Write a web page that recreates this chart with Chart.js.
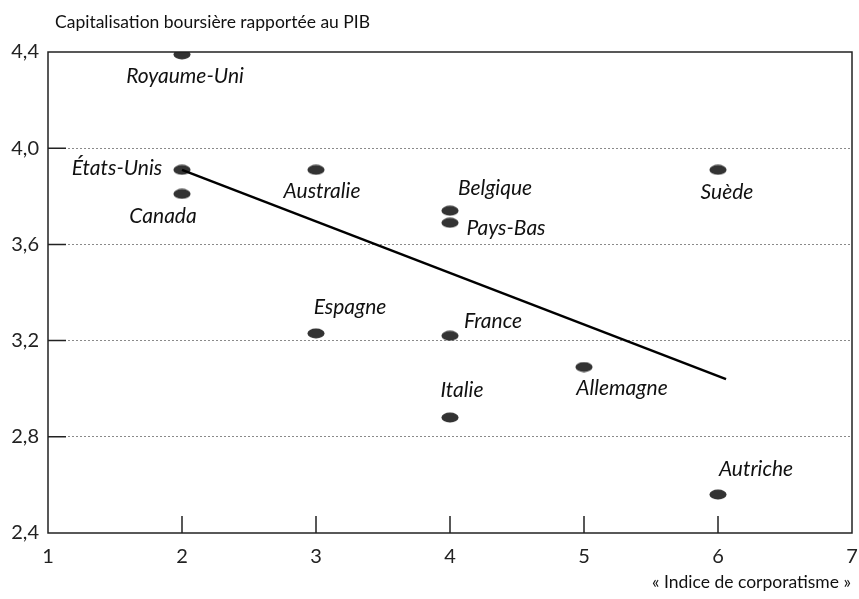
<!DOCTYPE html>
<html>
<head>
<meta charset="utf-8">
<script src="https://cdn.jsdelivr.net/npm/chart.js@4.4.0/dist/chart.umd.min.js"></script>
<style>
  html, body { margin: 0; padding: 0; background: #fff; }
  #wrap { width: 859px; height: 599px; }
</style>
</head>
<body>
<div id="wrap"><canvas id="chart"></canvas></div>
<script>
const countries = ['Royaume-Uni', 'États-Unis', 'Canada', 'Australie', 'Belgique', 'Pays-Bas',
                   'Suède', 'Espagne', 'France', 'Allemagne', 'Italie', 'Autriche'];
const corporatism = [2, 2, 2, 3, 4, 4, 6, 3, 4, 5, 4, 6];
const capitalisation = [4.39, 3.91, 3.81, 3.91, 3.74, 3.69, 3.91, 3.23, 3.22, 3.09, 2.88, 2.56];
const trendX = [2, 6.06];
const trendY = [3.91, 3.04];
const yTicks = [2.4, 2.8, 3.2, 3.6, 4.0, 4.4];

// label offsets from the point, in pixels
const labelOffsets = [[3, 22], [-65, -2], [-19, 22], [6, 21], [45, -22], [56, 5],
                      [9, 22], [34, -26], [43, -15], [38, 21], [12, -27], [38, -25]];

const FONT = 'Lato, "Open Sans", sans-serif';

// ellipse marker
const dot = document.createElement('canvas');
dot.width = 18; dot.height = 11;
(function () {
    const c = dot.getContext('2d');
    c.fillStyle = '#333';
    c.beginPath();
    c.ellipse(9, 5.5, 8.5, 5, 0, 0, Math.PI * 2);
    c.fill();
})();

const extras = {
    id: 'extras',
    afterDraw(chart) {
        const ctx = chart.ctx;
        const a = chart.chartArea;
        const xs = chart.scales.x, ys = chart.scales.y;
        ctx.save();

        // frame
        ctx.strokeStyle = '#222';
        ctx.lineWidth = 1.5;
        ctx.strokeRect(a.left, a.top, a.right - a.left, a.bottom - a.top);

        // inner tick marks
        ctx.beginPath();
        for (let v = 2; v <= 6; v++) {
            const px = xs.getPixelForValue(v);
            ctx.moveTo(px, a.bottom);
            ctx.lineTo(px, a.bottom - 17);
        }
        yTicks.slice(1, -1).forEach(v => {
            const py = ys.getPixelForValue(v);
            ctx.moveTo(a.left, py);
            ctx.lineTo(a.left + 18, py);
        });
        ctx.stroke();

        // point labels
        const meta = chart.getDatasetMeta(1);
        ctx.fillStyle = '#111';
        ctx.font = 'italic 21px ' + FONT;
        ctx.textAlign = 'center';
        ctx.textBaseline = 'middle';
        meta.data.forEach((pt, i) => {
            const o = labelOffsets[i];
            ctx.fillText(countries[i], pt.x + o[0], pt.y + o[1]);
        });

        // titles
        ctx.font = '17.5px ' + FONT;
        ctx.textAlign = 'left';
        ctx.fillText('Capitalisation boursière rapportée au PIB', a.left + 7, 22);
        ctx.textAlign = 'right';
        ctx.fillText('« Indice de corporatisme »', a.right - 1, 582);
        ctx.restore();
    }
};

new Chart(document.getElementById('chart'), {
    type: 'scatter',
    data: {
        datasets: [
            {
                type: 'line',
                data: trendX.map((x, i) => ({ x: x, y: trendY[i] })),
                borderColor: '#000',
                borderWidth: 2.5,
                pointRadius: 0,
                fill: false
            },
            {
                data: corporatism.map((x, i) => ({ x: x, y: capitalisation[i] })),
                pointStyle: dot,
                pointRadius: 6
            }
        ]
    },
    options: {
        responsive: true,
        maintainAspectRatio: false,
        animation: false,
        events: [],
        layout: { padding: { top: 52, right: 3, left: 0, bottom: 0 } },
        plugins: { legend: { display: false }, tooltip: { enabled: false } },
        scales: {
            x: {
                type: 'linear',
                min: 1, max: 7,
                afterFit: s => { s.height = 66; s.paddingLeft = 0; s.paddingRight = 0; },
                ticks: {
                    stepSize: 1,
                    color: '#222',
                    padding: 4,
                    font: { family: FONT, size: 20 }
                },
                grid: { display: false },
                border: { display: false }
            },
            y: {
                min: 2.4, max: 4.4,
                afterFit: s => { s.width = 48; s.paddingTop = 0; s.paddingBottom = 0; },
                afterBuildTicks: s => { s.ticks = yTicks.map(v => ({ value: v })); },
                ticks: {
                    color: '#222',
                    padding: 9,
                    font: { family: FONT, size: 20 },
                    callback: v => v.toFixed(1).replace('.', ',')
                },
                grid: {
                    drawTicks: false,
                    color: c => (c.tick && (c.tick.value === 2.4 || c.tick.value === 4.4)) ? 'rgba(0,0,0,0)' : '#8a8a8a',
                    lineWidth: 1
                },
                border: { display: false, dash: [2, 2] }
            }
        }
    },
    plugins: [extras]
});
</script>
</body>
</html>
